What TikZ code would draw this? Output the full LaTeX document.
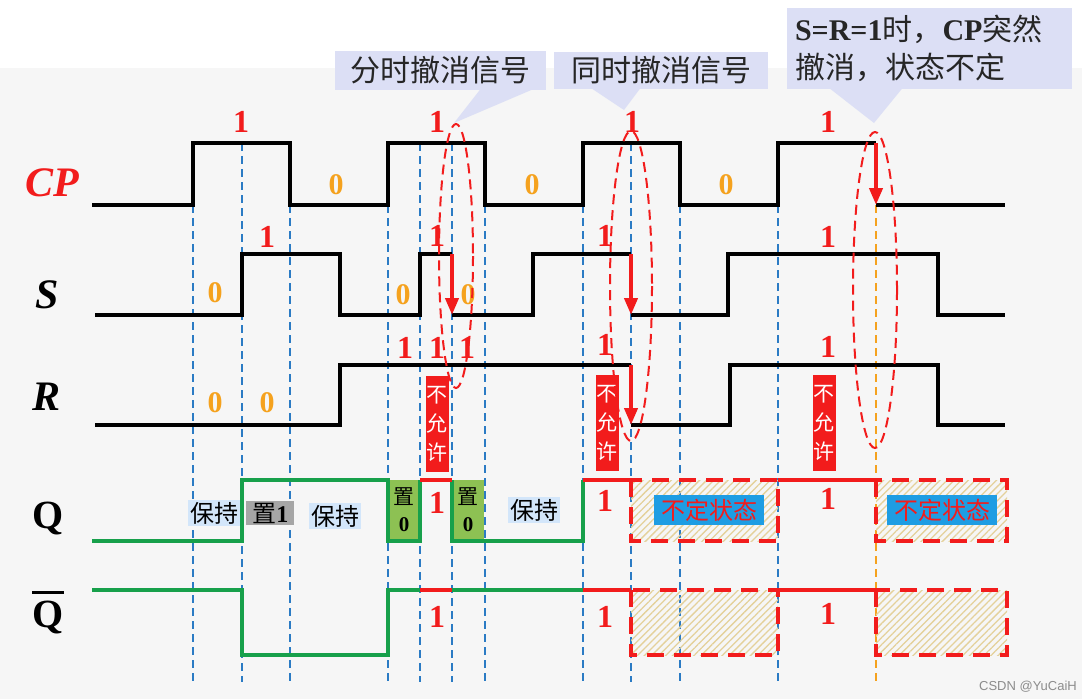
\documentclass[tikz,border=0pt]{standalone}
\usepackage{fontspec}
\setmainfont{Liberation Serif}
\setsansfont{Liberation Sans}
\newfontfamily\cjk{Noto Sans CJK SC}
\usepackage{xcolor}
\usetikzlibrary{arrows.meta,positioning,patterns.meta}

\definecolor{hotred}{HTML}{F21C1C}
\definecolor{zeroor}{HTML}{F5A21E}
\definecolor{guideblue}{HTML}{2B7BC4}
\definecolor{qgreen}{HTML}{17A04B}
\definecolor{callout}{HTML}{DCDFF5}
\definecolor{holdblue}{HTML}{D3E6FA}
\definecolor{setgray}{HTML}{A6A6A6}
\definecolor{resetgreen}{HTML}{8DC153}
\definecolor{badblue}{HTML}{1E9DE3}
\definecolor{hatch}{HTML}{E4D19A}
\definecolor{bggray}{HTML}{F6F6F6}

\begin{document}
\begin{tikzpicture}[
  x=1pt, y=-1pt,
  wave/.style={line width=4pt},
  qline/.style={draw=qgreen, line width=4pt},
  hot/.style={draw=hotred, line width=4pt},
  drop/.style={draw=hotred, line width=4pt, -{Triangle[length=17pt,width=13pt]}},
  guide/.style={draw=guideblue, line width=2.2pt, dash pattern=on 8pt off 5pt},
  ring/.style={draw=hotred, line width=2pt, dash pattern=on 10pt off 6pt},
  unknown/.style={draw=hotred, line width=4.5pt, dash pattern=on 17pt off 10pt,
    pattern={Lines[angle=45,distance=5pt,line width=1.3pt]}, pattern color=hatch},
  one/.style={text=hotred, inner sep=0pt, font=\bfseries\fontsize{32}{32}\selectfont},
  zero/.style={text=zeroor, inner sep=0pt, font=\bfseries\fontsize{30}{30}\selectfont},
  sig/.style={inner sep=0pt, font=\bfseries\itshape\fontsize{42}{42}\selectfont},
  note/.style={fill=callout, inner sep=0pt, text=black!85, font=\cjk\fontsize{30}{38}\selectfont},
  hold/.style={fill=holdblue, inner sep=2pt, font=\cjk\fontsize{24}{24}\selectfont},
  setone/.style={fill=setgray, inner xsep=6pt, inner ysep=2pt, font=\cjk\fontsize{24}{24}\selectfont},
  setzero/.style={fill=resetgreen, minimum width=32, minimum height=61, inner sep=0pt,
    align=center, font=\cjk\fontsize{21}{27}\selectfont},
  ban/.style={fill=hotred, text=white, minimum width=23, minimum height=96, inner sep=0pt,
    align=center, font=\cjk\fontsize{21}{29}\selectfont},
  vague/.style={fill=badblue, text=hotred, minimum width=110, minimum height=30, inner sep=0pt,
    font=\cjk\fontsize{24}{24}\selectfont}
]
  \useasboundingbox (0,0) rectangle (1082,699);
  \fill[white] (0,0) rectangle (1082,699);
  \fill[bggray] (0,68) rectangle (1082,699);

  % callouts at the top
  \node[note, minimum width=211, minimum height=39] (split) at (440,70) {分时撤消信号};
  \node[note, minimum width=214, minimum height=37] (same) at (661,70) {同时撤消信号};
  \node[note, minimum width=285, minimum height=81, text width=268pt, align=left] (sudden) at (929,48)
    {{\rmfamily\bfseries S=R=1}时，{\rmfamily\bfseries CP}突然\\撤消，状态不定};
  \coordinate (tipA) at (454,123);
  \coordinate (tipB) at (624,110);
  \coordinate (tipC) at (874,123);
  \fill[callout] ([xshift=40pt]split.south) -- (tipA) -- ([xshift=92pt]split.south) -- cycle;
  \fill[callout] ([xshift=-69pt]same.south) -- (tipB) -- ([xshift=-21pt]same.south) -- cycle;
  \fill[callout] ([xshift=-99pt]sudden.south) -- (tipC) -- ([xshift=-27pt]sudden.south) -- cycle;

  % time guides
  \foreach \gx/\gy in {193/205,242/143,290/205,388/205,420/143,452/143,485/205,583/205,631/143,680/205,778/205}
    \draw[guide] (\gx,\gy) -- (\gx,682);
  \draw[guide, draw=zeroor] (876,205) -- (876,682);

  % undefined state regions
  \draw[unknown] (631,480) rectangle (778,541);
  \draw[unknown] (876,480) rectangle (1007,541);
  \draw[unknown] (631,590) rectangle (778,655);
  \draw[unknown] (876,590) rectangle (1007,655);

  % Q row labels
  \node[hold] (hold1) at (214,513) {保持};
  \node[setone, right=6pt of hold1] (set1) {置{\rmfamily\bfseries 1}};
  \node[hold] (hold2) at (335,516) {保持};
  \node[hold] (hold3) at (534,510) {保持};
  \node[setzero] (reset1) at (404,510) {置\\{\rmfamily\bfseries 0}};
  \node[setzero] (reset2) at (468,510) {置\\{\rmfamily\bfseries 0}};
  \node[vague] (vague1) at (709,510) {不定状态};
  \node[vague] (vague2) at (942,510) {不定状态};

  % waveforms
  \draw[wave] (92,205) -| (193,143) -| (290,205) -| (388,143) -| (485,205) -| (583,143) -| (680,205) -| (778,143) -- (876,143);
  \draw[wave] (876,205) -- (1005,205);
  \draw[wave] (95,315) -| (242,254) -| (340,315) -| (420,254) -- (452,254);
  \draw[wave] (452,315) -| (533,254) -- (631,254);
  \draw[wave] (631,315) -| (728,254) -| (938,315) -- (1005,315);
  \draw[wave] (95,425) -| (340,365) -- (631,365);
  \draw[wave] (631,425) -| (730,365) -| (938,425) -- (1005,425);

  \draw[qline] (92,541) -| (242,480) -| (388,541) -| (420,480);
  \draw[qline] (452,480) -- (452,541) -| (583,480);
  \draw[qline] (92,590) -| (242,655) -| (388,590) -- (420,590);
  \draw[qline] (452,590) -- (583,590);
  \foreach \gy in {480,590} {
    \draw[hot] (420,\gy) -- (452,\gy);
    \draw[hot] (583,\gy) -- (631,\gy);
    \draw[hot] (778,\gy) -- (876,\gy);
  }

  % sudden withdrawals
  \draw[drop] (452,254) -- (452,315);
  \draw[drop] (631,254) -- (631,315);
  \draw[drop] (631,365) -- (631,425);
  \draw[drop] (876,143) -- (876,205);

  % signal names
  \node[sig, text=hotred] (cp) at (52,183) {CP};
  \node[sig] (s) at (47,295) {S};
  \node[sig] (r) at (47,397) {R};
  \node[inner sep=0pt, font=\bfseries\fontsize{40}{40}\selectfont] (q) at (48,518) {Q};
  \node[inner sep=0pt, font=\bfseries\fontsize{40}{40}\selectfont] (qbar) at (48,612)
    {\vbox{\hrule height 3pt\kern 7pt\hbox{Q}}};

  % levels
  \foreach \gx/\gy [count=\i] in {241/122,437/122,632/122,828/122,
      267/237,437/236,605/236,828/237,
      405/348,437/348,467/348,605/345,828/347,
      437/503,605/501,828/499,437/617,605/617,828/614}
    \node[one] (hi\i) at (\gx,\gy) {1};
  \foreach \gx/\gy [count=\i] in {336/185,532/185,726/185,215/293,403/295,468/295,215/403,267/403}
    \node[zero] (lo\i) at (\gx,\gy) {0};

  % forbidden inputs
  \node[ban] (ban1) at (437,424) {不\\允\\许};
  \node[ban] (ban2) at (607,423) {不\\允\\许};
  \node[ban] (ban3) at (824,423) {不\\允\\许};

  % marked moments
  \draw[ring] (456,256) ellipse [x radius=17, y radius=132];
  \draw[ring] (631,286) ellipse [x radius=21, y radius=155];
  \draw[ring] (875,290) ellipse [x radius=22, y radius=158];

  \node[text=black!45, font=\sffamily\fontsize{13}{13}\selectfont] (mark) at (1028,687) {CSDN @YuCaiH};
\end{tikzpicture}
\end{document}
